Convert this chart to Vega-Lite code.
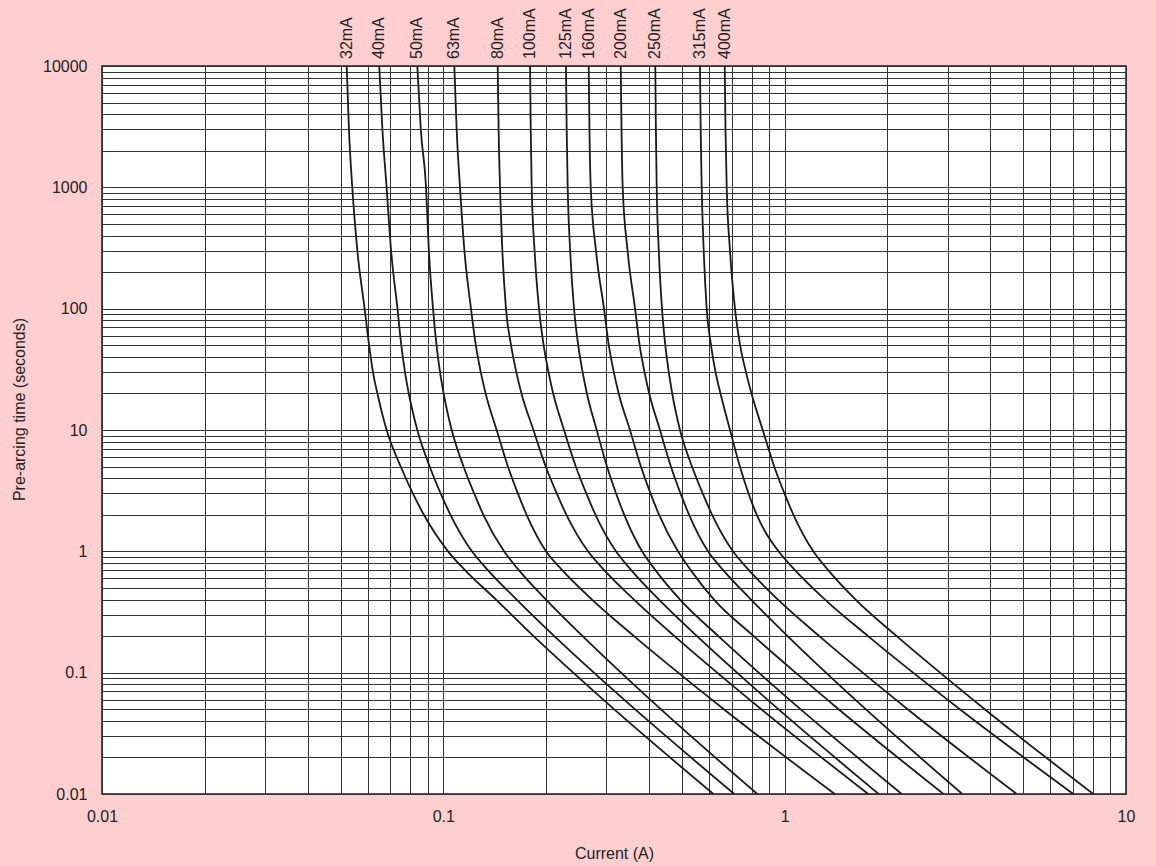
{
  "$schema": "https://vega.github.io/schema/vega-lite/v6.json",
  "width": 1024,
  "height": 728,
  "autosize": {"type": "none"},
  "padding": {"left": 102, "top": 66, "right": 30, "bottom": 72},
  "background": "#ffcfd0",
  "config": {
    "view": {"fill": "white", "stroke": "#1e1e1e", "strokeWidth": 1.5},
    "font": "Liberation Sans",
    "axis": {
      "domain": false, "ticks": false, "tickSize": 0, "grid": true,
      "gridColor": "#333333", "gridWidth": 1, "gridOpacity": 1,
      "labelFont": "Liberation Sans", "labelFontSize": 16, "labelColor": "#222222",
      "titleFont": "Liberation Sans", "titleFontSize": 16, "titleFontWeight": "normal", "titleColor": "#222222",
      "labelOverlap": false, "labelFlush": false, "labelBound": false
    }
  },
  "data": {"values": [
    {"fuse":"32mA","current":0.0521,"time":10000},{"fuse":"32mA","current":0.0529,"time":3000},{"fuse":"32mA","current":0.0541,"time":1000},{"fuse":"32mA","current":0.056,"time":300},{"fuse":"32mA","current":0.0588,"time":100},{"fuse":"32mA","current":0.0606,"time":50},{"fuse":"32mA","current":0.0622,"time":30},{"fuse":"32mA","current":0.0641,"time":20},{"fuse":"32mA","current":0.0682,"time":10},{"fuse":"32mA","current":0.075,"time":5},{"fuse":"32mA","current":0.0814,"time":3},{"fuse":"32mA","current":0.0877,"time":2},{"fuse":"32mA","current":0.1032,"time":1},{"fuse":"32mA","current":0.1157,"time":0.7},{"fuse":"32mA","current":0.1427,"time":0.4},{"fuse":"32mA","current":0.1838,"time":0.2},{"fuse":"32mA","current":0.2401,"time":0.1},{"fuse":"32mA","current":0.3162,"time":0.05},{"fuse":"32mA","current":0.6183,"time":0.01},
    {"fuse":"40mA","current":0.0649,"time":10000},{"fuse":"40mA","current":0.0663,"time":3000},{"fuse":"40mA","current":0.0682,"time":1000},{"fuse":"40mA","current":0.0703,"time":300},{"fuse":"40mA","current":0.0734,"time":100},{"fuse":"40mA","current":0.0753,"time":50},{"fuse":"40mA","current":0.0772,"time":30},{"fuse":"40mA","current":0.0792,"time":20},{"fuse":"40mA","current":0.0839,"time":10},{"fuse":"40mA","current":0.0912,"time":5},{"fuse":"40mA","current":0.0982,"time":3},{"fuse":"40mA","current":0.1049,"time":2},{"fuse":"40mA","current":0.1213,"time":1},{"fuse":"40mA","current":0.135,"time":0.7},{"fuse":"40mA","current":0.164,"time":0.4},{"fuse":"40mA","current":0.2114,"time":0.2},{"fuse":"40mA","current":0.2761,"time":0.1},{"fuse":"40mA","current":0.3641,"time":0.05},{"fuse":"40mA","current":0.7118,"time":0.01},
    {"fuse":"50mA","current":0.0839,"time":10000},{"fuse":"50mA","current":0.0859,"time":3000},{"fuse":"50mA","current":0.089,"time":1000},{"fuse":"50mA","current":0.0907,"time":300},{"fuse":"50mA","current":0.0933,"time":100},{"fuse":"50mA","current":0.0955,"time":50},{"fuse":"50mA","current":0.0978,"time":30},{"fuse":"50mA","current":0.1002,"time":20},{"fuse":"50mA","current":0.1058,"time":10},{"fuse":"50mA","current":0.1146,"time":5},{"fuse":"50mA","current":0.1231,"time":3},{"fuse":"50mA","current":0.131,"time":2},{"fuse":"50mA","current":0.1506,"time":1},{"fuse":"50mA","current":0.1664,"time":0.7},{"fuse":"50mA","current":0.1999,"time":0.4},{"fuse":"50mA","current":0.2559,"time":0.2},{"fuse":"50mA","current":0.3315,"time":0.1},{"fuse":"50mA","current":0.4333,"time":0.05},{"fuse":"50mA","current":0.8316,"time":0.01},
    {"fuse":"63mA","current":0.1077,"time":10000},{"fuse":"63mA","current":0.1094,"time":3000},{"fuse":"63mA","current":0.1119,"time":1000},{"fuse":"63mA","current":0.1153,"time":300},{"fuse":"63mA","current":0.1205,"time":100},{"fuse":"63mA","current":0.1245,"time":50},{"fuse":"63mA","current":0.1287,"time":30},{"fuse":"63mA","current":0.133,"time":20},{"fuse":"63mA","current":0.1433,"time":10},{"fuse":"63mA","current":0.1546,"time":5},{"fuse":"63mA","current":0.1653,"time":3},{"fuse":"63mA","current":0.1754,"time":2},{"fuse":"63mA","current":0.1999,"time":1},{"fuse":"63mA","current":0.223,"time":0.7},{"fuse":"63mA","current":0.2726,"time":0.4},{"fuse":"63mA","current":0.3619,"time":0.2},{"fuse":"63mA","current":0.4876,"time":0.1},{"fuse":"63mA","current":0.6633,"time":0.05},{"fuse":"63mA","current":1.4016,"time":0.01},
    {"fuse":"80mA","current":0.1443,"time":10000},{"fuse":"80mA","current":0.1452,"time":3000},{"fuse":"80mA","current":0.1466,"time":1000},{"fuse":"80mA","current":0.1489,"time":300},{"fuse":"80mA","current":0.1526,"time":100},{"fuse":"80mA","current":0.1579,"time":50},{"fuse":"80mA","current":0.1636,"time":30},{"fuse":"80mA","current":0.1694,"time":20},{"fuse":"80mA","current":0.1836,"time":10},{"fuse":"80mA","current":0.1995,"time":5},{"fuse":"80mA","current":0.2149,"time":3},{"fuse":"80mA","current":0.2294,"time":2},{"fuse":"80mA","current":0.2654,"time":1},{"fuse":"80mA","current":0.296,"time":0.7},{"fuse":"80mA","current":0.3619,"time":0.4},{"fuse":"80mA","current":0.4756,"time":0.2},{"fuse":"80mA","current":0.634,"time":0.1},{"fuse":"80mA","current":0.8536,"time":0.05},{"fuse":"80mA","current":1.757,"time":0.01},
    {"fuse":"100mA","current":0.1795,"time":10000},{"fuse":"100mA","current":0.1803,"time":3000},{"fuse":"100mA","current":0.1815,"time":1000},{"fuse":"100mA","current":0.1851,"time":300},{"fuse":"100mA","current":0.1907,"time":100},{"fuse":"100mA","current":0.1967,"time":50},{"fuse":"100mA","current":0.2033,"time":30},{"fuse":"100mA","current":0.2098,"time":20},{"fuse":"100mA","current":0.2257,"time":10},{"fuse":"100mA","current":0.2444,"time":5},{"fuse":"100mA","current":0.2623,"time":3},{"fuse":"100mA","current":0.2791,"time":2},{"fuse":"100mA","current":0.3205,"time":1},{"fuse":"100mA","current":0.3551,"time":0.7},{"fuse":"100mA","current":0.4283,"time":0.4},{"fuse":"100mA","current":0.5536,"time":0.2},{"fuse":"100mA","current":0.725,"time":0.1},{"fuse":"100mA","current":0.958,"time":0.05},{"fuse":"100mA","current":1.886,"time":0.01},
    {"fuse":"125mA","current":0.2287,"time":10000},{"fuse":"125mA","current":0.2298,"time":3000},{"fuse":"125mA","current":0.2314,"time":1000},{"fuse":"125mA","current":0.2353,"time":300},{"fuse":"125mA","current":0.2415,"time":100},{"fuse":"125mA","current":0.2484,"time":50},{"fuse":"125mA","current":0.2559,"time":30},{"fuse":"125mA","current":0.2634,"time":20},{"fuse":"125mA","current":0.2814,"time":10},{"fuse":"125mA","current":0.3016,"time":5},{"fuse":"125mA","current":0.3207,"time":3},{"fuse":"125mA","current":0.3389,"time":2},{"fuse":"125mA","current":0.3821,"time":1},{"fuse":"125mA","current":0.4181,"time":0.7},{"fuse":"125mA","current":0.4936,"time":0.4},{"fuse":"125mA","current":0.6395,"time":0.2},{"fuse":"125mA","current":0.8393,"time":0.1},{"fuse":"125mA","current":1.112,"time":0.05},{"fuse":"125mA","current":2.202,"time":0.01},
    {"fuse":"160mA","current":0.2666,"time":10000},{"fuse":"160mA","current":0.268,"time":3000},{"fuse":"160mA","current":0.2703,"time":1000},{"fuse":"160mA","current":0.2801,"time":300},{"fuse":"160mA","current":0.2956,"time":100},{"fuse":"160mA","current":0.3053,"time":50},{"fuse":"160mA","current":0.3158,"time":30},{"fuse":"160mA","current":0.3264,"time":20},{"fuse":"160mA","current":0.3522,"time":10},{"fuse":"160mA","current":0.3792,"time":5},{"fuse":"160mA","current":0.4045,"time":3},{"fuse":"160mA","current":0.4287,"time":2},{"fuse":"160mA","current":0.487,"time":1},{"fuse":"160mA","current":0.5305,"time":0.7},{"fuse":"160mA","current":0.6208,"time":0.4},{"fuse":"160mA","current":0.8115,"time":0.2},{"fuse":"160mA","current":1.076,"time":0.1},{"fuse":"160mA","current":1.439,"time":0.05},{"fuse":"160mA","current":2.92,"time":0.01},
    {"fuse":"200mA","current":0.3309,"time":10000},{"fuse":"200mA","current":0.3327,"time":3000},{"fuse":"200mA","current":0.3353,"time":1000},{"fuse":"200mA","current":0.3466,"time":300},{"fuse":"200mA","current":0.3645,"time":100},{"fuse":"200mA","current":0.3759,"time":50},{"fuse":"200mA","current":0.3885,"time":30},{"fuse":"200mA","current":0.401,"time":20},{"fuse":"200mA","current":0.4312,"time":10},{"fuse":"200mA","current":0.4642,"time":5},{"fuse":"200mA","current":0.4953,"time":3},{"fuse":"200mA","current":0.5248,"time":2},{"fuse":"200mA","current":0.5962,"time":1},{"fuse":"200mA","current":0.6606,"time":0.7},{"fuse":"200mA","current":0.797,"time":0.4},{"fuse":"200mA","current":1.02,"time":0.2},{"fuse":"200mA","current":1.321,"time":0.1},{"fuse":"200mA","current":1.727,"time":0.05},{"fuse":"200mA","current":3.315,"time":0.01},
    {"fuse":"250mA","current":0.4178,"time":10000},{"fuse":"250mA","current":0.4195,"time":3000},{"fuse":"250mA","current":0.4218,"time":1000},{"fuse":"250mA","current":0.4278,"time":300},{"fuse":"250mA","current":0.4371,"time":100},{"fuse":"250mA","current":0.447,"time":50},{"fuse":"250mA","current":0.4577,"time":30},{"fuse":"250mA","current":0.4683,"time":20},{"fuse":"250mA","current":0.4936,"time":10},{"fuse":"250mA","current":0.5352,"time":5},{"fuse":"250mA","current":0.5753,"time":3},{"fuse":"250mA","current":0.613,"time":2},{"fuse":"250mA","current":0.7056,"time":1},{"fuse":"250mA","current":0.7856,"time":0.7},{"fuse":"250mA","current":0.956,"time":0.4},{"fuse":"250mA","current":1.263,"time":0.2},{"fuse":"250mA","current":1.693,"time":0.1},{"fuse":"250mA","current":2.292,"time":0.05},{"fuse":"250mA","current":4.784,"time":0.01},
    {"fuse":"315mA","current":0.5648,"time":10000},{"fuse":"315mA","current":0.5675,"time":3000},{"fuse":"315mA","current":0.5714,"time":1000},{"fuse":"315mA","current":0.5792,"time":300},{"fuse":"315mA","current":0.591,"time":100},{"fuse":"315mA","current":0.6084,"time":50},{"fuse":"315mA","current":0.6272,"time":30},{"fuse":"315mA","current":0.6486,"time":20},{"fuse":"315mA","current":0.6916,"time":10},{"fuse":"315mA","current":0.7394,"time":5},{"fuse":"315mA","current":0.7836,"time":3},{"fuse":"315mA","current":0.8287,"time":2},{"fuse":"315mA","current":0.8711,"time":1.5},{"fuse":"315mA","current":0.9599,"time":1},{"fuse":"315mA","current":1.072,"time":0.7},{"fuse":"315mA","current":1.313,"time":0.4},{"fuse":"315mA","current":1.755,"time":0.2},{"fuse":"315mA","current":2.378,"time":0.1},{"fuse":"315mA","current":3.259,"time":0.05},{"fuse":"315mA","current":7.008,"time":0.01},
    {"fuse":"400mA","current":0.6673,"time":10000},{"fuse":"400mA","current":0.6709,"time":3000},{"fuse":"400mA","current":0.6764,"time":1000},{"fuse":"400mA","current":0.6916,"time":300},{"fuse":"400mA","current":0.7152,"time":100},{"fuse":"400mA","current":0.7403,"time":50},{"fuse":"400mA","current":0.7703,"time":30},{"fuse":"400mA","current":0.7995,"time":20},{"fuse":"400mA","current":0.8624,"time":10},{"fuse":"400mA","current":0.9319,"time":5},{"fuse":"400mA","current":0.9982,"time":3},{"fuse":"400mA","current":1.061,"time":2},{"fuse":"400mA","current":1.213,"time":1},{"fuse":"400mA","current":1.341,"time":0.7},{"fuse":"400mA","current":1.614,"time":0.4},{"fuse":"400mA","current":2.129,"time":0.2},{"fuse":"400mA","current":2.852,"time":0.1},{"fuse":"400mA","current":3.855,"time":0.05},{"fuse":"400mA","current":8.022,"time":0.01}
  ]},
  "encoding": {
    "x": {
      "field": "current", "type": "quantitative",
      "scale": {"type": "log", "domain": [0.01, 10], "nice": false},
      "axis": {
        "title": "Current (A)",
        "values": [0.01,0.02,0.03,0.04,0.05,0.06,0.07,0.08,0.09,0.1,0.2,0.3,0.4,0.5,0.6,0.7,0.8,0.9,1,2,3,4,5,6,7,8,9,10],
        "format": "~g",
        "labelExpr": "indexof(['0.01','0.1','1','10'], datum.label) >= 0 ? datum.label : ''",
        "labelPadding": 14,
        "titleY": 51
      }
    },
    "y": {
      "field": "time", "type": "quantitative",
      "scale": {"type": "log", "domain": [0.01, 10000], "nice": false},
      "axis": {
        "title": "Pre-arcing time (seconds)",
        "values": [0.01,0.02,0.03,0.04,0.05,0.06,0.07,0.08,0.09,0.1,0.2,0.3,0.4,0.5,0.6,0.7,0.8,0.9,1,2,3,4,5,6,7,8,9,10,20,30,40,50,60,70,80,90,100,200,300,400,500,600,700,800,900,1000,2000,3000,4000,5000,6000,7000,8000,9000,10000],
        "format": "~g",
        "labelExpr": "indexof(['0.01','0.1','1','10','100','1000','10000'], datum.label) >= 0 ? datum.label : ''",
        "labelPadding": 15,
        "titleX": -75,
        "titleY": 343
      }
    }
  },
  "layer": [
    {
      "mark": {"type": "line", "color": "#1a1a1a", "strokeWidth": 1.8, "clip": true, "interpolate": "monotone"},
      "encoding": {"detail": {"field": "fuse"}}
    },
    {
      "transform": [{"filter": "datum.time == 10000"}],
      "mark": {"type": "text", "angle": 270, "align": "left", "baseline": "middle", "dx": 7, "fontSize": 16, "color": "#222222", "font": "Liberation Sans"},
      "encoding": {"text": {"field": "fuse"}}
    }
  ]
}
